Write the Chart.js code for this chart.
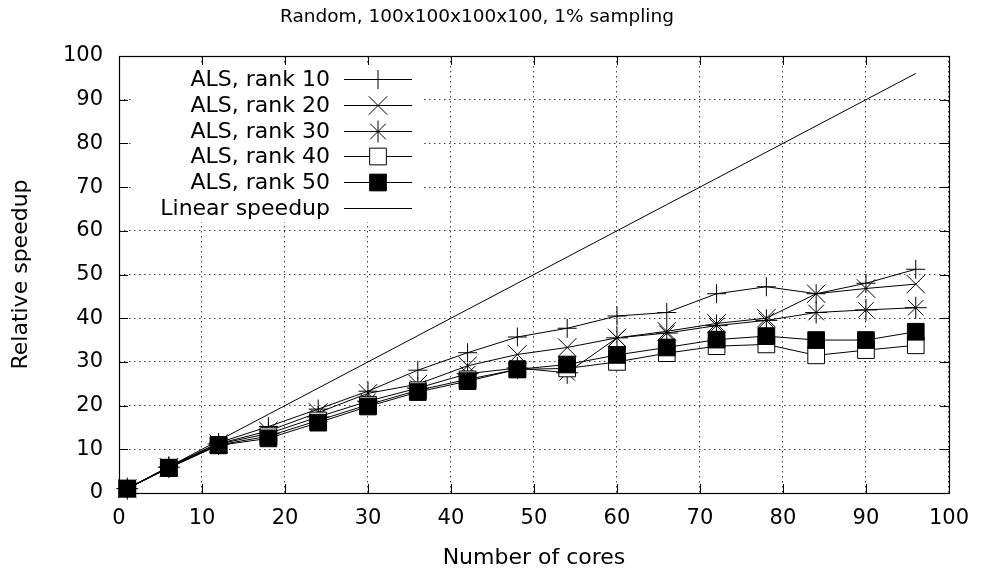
<!DOCTYPE html>
<html>
<head>
<meta charset="utf-8">
<script src="https://cdn.jsdelivr.net/npm/chart.js@4/dist/chart.umd.min.js"></script>
<style>
  html, body { margin: 0; padding: 0; background: #fff; }
  #wrap { width: 982px; height: 574px; }
</style>
</head>
<body>
<div id="wrap"><canvas id="speedup" width="982" height="574"></canvas></div>
<script>
// values
const cores = [1, 6, 12, 18, 24, 30, 36, 42, 48, 54, 60, 66, 72, 78, 84, 90, 96];
const rank10 = [1, 6, 11.5, 15.2, 19.2, 23.3, 28.1, 32.1, 35.7, 37.7, 40.5, 41.3, 45.6, 47.2, 45.6, 48.0, 51.2];
const rank20 = [1, 5.9, 11.3, 14.2, 18.4, 22.8, 24.9, 29.1, 31.7, 33.3, 35.5, 37.0, 38.8, 40.0, 45.6, 46.8, 47.8];
const rank30 = [1, 5.9, 11.2, 13.6, 17.4, 21.0, 24.0, 27.3, 28.6, 27.5, 35.5, 36.6, 38.3, 39.5, 41.3, 41.9, 42.4];
const rank40 = [1, 5.8, 11.0, 13.0, 16.6, 20.2, 23.5, 26.0, 28.3, 28.5, 30.0, 32.0, 33.6, 34.0, 31.5, 32.7, 33.8];
const rank50 = [1, 5.7, 10.9, 12.5, 16.1, 19.8, 23.1, 25.6, 28.3, 29.4, 31.6, 33.3, 35.1, 35.9, 35.0, 35.0, 36.9];
const linearSpeedup = [1, 6, 12, 18, 24, 30, 36, 42, 48, 54, 60, 66, 72, 78, 84, 90, 96];

const seriesLabels = ['ALS, rank 10', 'ALS, rank 20', 'ALS, rank 30', 'ALS, rank 40', 'ALS, rank 50', 'Linear speedup'];
const xTicks = [0, 10, 20, 30, 40, 50, 60, 70, 80, 90, 100];
const yTicks = [0, 10, 20, 30, 40, 50, 60, 70, 80, 90, 100];

const FONT = 'DejaVu Sans';

function pts(ys) {
  return cores.map((c, i) => ({ x: c, y: ys[i] }));
}

function series(label, ys, style, radius, fill, order) {
  return {
    label: label,
    data: pts(ys),
    borderColor: '#000',
    borderWidth: 1,
    pointStyle: style,
    pointRadius: radius,
    pointBorderColor: '#000',
    pointBackgroundColor: fill,
    pointBorderWidth: 1,
    tension: 0,
    fill: false,
    clip: false,
    order: order
  };
}

// white key box with right aligned text, gnuplot style
const keyPlugin = {
  id: 'keyPlugin',
  beforeDatasetsDraw(chart) {
    const ctx = chart.ctx;
    ctx.save();
    ctx.fillStyle = '#fff';
    ctx.fillRect(133, 65, 290, 157);
    ctx.font = '22px "' + FONT + '"';
    ctx.textAlign = 'right';
    ctx.textBaseline = 'middle';
    chart.data.datasets.forEach((ds, i) => {
      const y = Math.round(79 + i * 25.8) + 0.5;
      ctx.fillStyle = '#000';
      ctx.fillText(ds.label, 330, y + 1);
      ctx.strokeStyle = '#000';
      ctx.lineWidth = 1;
      ctx.beginPath();
      ctx.moveTo(344, y);
      ctx.lineTo(412, y);
      ctx.stroke();
      if (ds.pointRadius > 0) {
        ctx.fillStyle = ds.pointBackgroundColor;
        ctx.strokeStyle = '#000';
        Chart.helpers.drawPoint(ctx, {
          pointStyle: ds.pointStyle,
          radius: ds.pointRadius,
          borderWidth: 1,
          rotation: 0
        }, 378, y);
      }
    });
    ctx.restore();
  },
  afterDatasetsDraw(chart) {
    // frame with inward ticks on all four sides
    const ctx = chart.ctx;
    const a = chart.chartArea;
    const xs = chart.scales.x, ys = chart.scales.y;
    const len = 9;
    ctx.save();
    ctx.strokeStyle = '#000';
    ctx.lineWidth = 1;
    ctx.beginPath();
    xTicks.forEach(v => {
      const px = Math.round(xs.getPixelForValue(v)) + 0.5;
      ctx.moveTo(px, a.bottom); ctx.lineTo(px, a.bottom - len);
      ctx.moveTo(px, a.top); ctx.lineTo(px, a.top + len);
    });
    yTicks.forEach(v => {
      const py = Math.round(ys.getPixelForValue(v)) + 0.5;
      ctx.moveTo(a.left, py); ctx.lineTo(a.left + len, py);
      ctx.moveTo(a.right, py); ctx.lineTo(a.right - len, py);
    });
    ctx.stroke();
    ctx.lineWidth = 1.2;
    ctx.strokeRect(Math.round(a.left) + 0.5, Math.round(a.top) + 0.5,
      Math.round(a.right - a.left), Math.round(a.bottom - a.top));
    ctx.restore();
  }
};

const gridStyle = {
  drawTicks: false,
  color: 'rgba(0,0,0,0.75)',
  lineWidth: 1
};

new Chart(document.getElementById('speedup').getContext('2d'), {
  type: 'line',
  data: {
    datasets: [
      series(seriesLabels[0], rank10, 'cross', 9.5, '#000', 6),
      series(seriesLabels[1], rank20, 'crossRot', 13, '#000', 5),
      series(seriesLabels[2], rank30, 'star', 11, '#000', 4),
      series(seriesLabels[3], rank40, 'rect', 11.8, '#fff', 3),
      series(seriesLabels[4], rank50, 'rect', 11.8, '#000', 2),
      series(seriesLabels[5], linearSpeedup, 'circle', 0, '#000', 1)
    ]
  },
  options: {
    responsive: false,
    animation: false,
    events: [],
    layout: { padding: { left: 0, right: 28, top: 0, bottom: 0 } },
    plugins: {
      legend: { display: false },
      tooltip: { enabled: false },
      title: {
        display: true,
        text: 'Random, 100x100x100x100, 1% sampling',
        color: '#000',
        font: { family: FONT, size: 18.5, weight: 'normal' },
        padding: { top: 6, bottom: 27.8 }
      }
    },
    scales: {
      x: {
        type: 'linear',
        min: 0,
        max: 100,
        afterBuildTicks: s => { s.ticks = xTicks.map(v => ({ value: v })); },
        afterFit: s => { s.height = 81; },
        ticks: { color: '#000', padding: 13, maxRotation: 0, font: { family: FONT, size: 21 } },
        grid: gridStyle,
        border: { display: false, dash: [1.5, 3.5] },
        title: {
          display: true,
          text: 'Number of cores',
          color: '#000',
          font: { family: FONT, size: 22 },
          padding: { top: 0, bottom: 3 }
        }
      },
      y: {
        type: 'linear',
        min: 0,
        max: 100,
        afterBuildTicks: s => { s.ticks = yTicks.map(v => ({ value: v })); },
        afterFit: s => { s.width = 119; },
        ticks: { color: '#000', padding: 16, font: { family: FONT, size: 21 } },
        grid: gridStyle,
        border: { display: false, dash: [1.5, 3.5] },
        title: {
          display: true,
          text: 'Relative speedup',
          color: '#000',
          font: { family: FONT, size: 22 },
          padding: { top: 8, bottom: 0 }
        }
      }
    }
  },
  plugins: [keyPlugin]
});
</script>
</body>
</html>
